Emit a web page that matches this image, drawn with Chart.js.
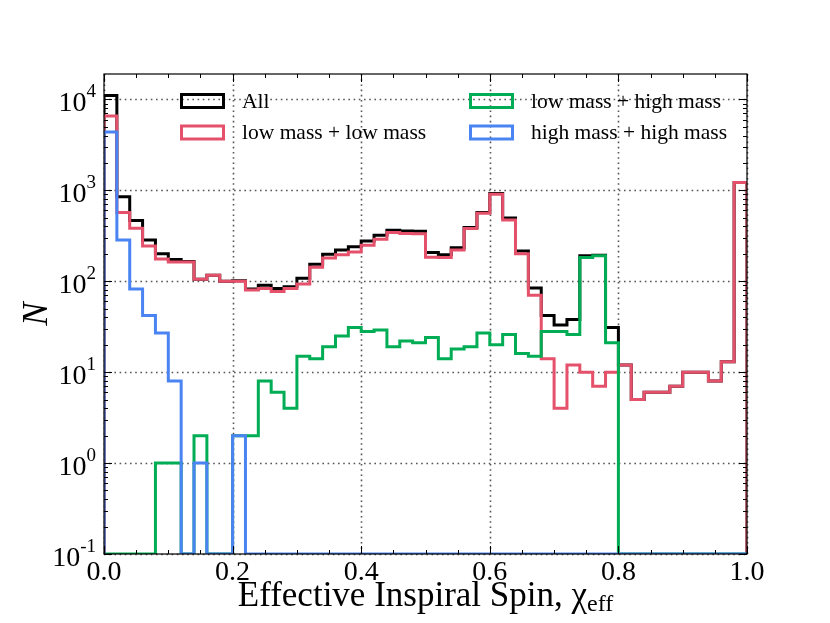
<!DOCTYPE html>
<html>
<head>
<meta charset="utf-8">
<script src="https://cdn.jsdelivr.net/npm/chart.js@4"></script>
<style>
  html, body { margin: 0; padding: 0; background: #fff; }
  canvas { display: block; }
</style>
</head>
<body>
<canvas id="myChart" width="830" height="623"></canvas>
<script>
// histogram bins: 50 bins of width 0.02 from 0 to 1
var binEdges = [];
for (var i = 0; i <= 50; i++) binEdges.push(+(i * 0.02).toFixed(2));

// counts per bin (0 = empty bin)
var allCounts = [11000, 850, 464, 284, 200, 173, 165, 105, 116, 100,
                 101, 82, 90, 83, 87, 108, 154, 198, 221, 240,
                 277, 320, 363, 357, 354, 207, 195, 234, 389, 569,
                 920, 496, 215, 84, 42, 33, 38, 190, 193, 31,
                 12, 5, 6, 6, 7, 10, 10, 8, 13, 1217];
var lowLow =    [6550, 569, 382, 244, 175, 163, 163, 105, 116, 100,
                 100, 80, 83, 77, 83, 93, 142, 180, 196, 209,
                 248, 290, 344, 335, 333, 183, 182, 221, 380, 558,
                 903, 472, 200, 70, 14, 4, 12, 10, 7, 10,
                 12, 5, 6, 6, 7, 10, 10, 8, 13, 1217];
var lowHigh =   [0, 0, 0, 0, 1, 1, 0, 2, 0, 0,
                 2, 2, 8, 6, 4, 15, 14, 19, 25, 31,
                 28, 29, 19, 22, 21, 24, 14, 18, 19, 27,
                 20, 26, 16, 15, 28, 28, 26, 182, 190, 21,
                 0, 0, 0, 0, 0, 0, 0, 0, 0, 0];
var highHigh =  [4370, 284, 82, 42, 27, 8, 0, 1, 0, 0,
                 2, 0, 0, 0, 0, 0, 0, 0, 0, 0,
                 0, 0, 0, 0, 0, 0, 0, 0, 0, 0,
                 0, 0, 0, 0, 0, 0, 0, 0, 0, 0,
                 0, 0, 0, 0, 0, 0, 0, 0, 0, 0];

var seriesNames = ['All', 'low mass + low mass', 'low mass + high mass', 'high mass + high mass'];
var xTicks = [0, 0.2, 0.4, 0.6, 0.8, 1.0];
var yDecades = [-1, 0, 1, 2, 3, 4];

var Y_MIN = 0.1, Y_MAX = 19000;
var SERIF = '"Liberation Serif", "DejaVu Serif", serif';

// step outline like matplotlib histtype='step'; empty bins sit on the bottom edge
function stepPoints(counts) {
  var pts = [{x: binEdges[0], y: Y_MIN}];
  counts.forEach(function (c, i) {
    pts.push({x: binEdges[i], y: c > 0 ? c : Y_MIN});
  });
  var last = counts[counts.length - 1];
  pts.push({x: binEdges[binEdges.length - 1], y: last > 0 ? last : Y_MIN});
  pts.push({x: binEdges[binEdges.length - 1], y: Y_MIN});
  return pts;
}

var colors = ['#000000', '#e5506a', '#00ad55', '#4a84f2'];

function histSet(idx, counts, order) {
  return {
    label: seriesNames[idx],
    data: stepPoints(counts),
    stepped: 'before',
    borderColor: colors[idx],
    borderWidth: 3,
    pointRadius: 0,
    fill: false,
    borderJoinStyle: 'miter',
    order: order
  };
}

var framePlugin = {
  id: 'frame',
  beforeDatasetsDraw: function (chart) {
    var ctx = chart.ctx, a = chart.chartArea;
    var xs = chart.scales.x, ys = chart.scales.y;
    ctx.save();
    ctx.strokeStyle = '#555';
    ctx.lineWidth = 1.6;
    ctx.setLineDash([1.6, 3.6]);
    xTicks.forEach(function (t) {
      var px = Math.round(xs.getPixelForValue(t)) + 0.5;
      ctx.beginPath(); ctx.moveTo(px, a.top); ctx.lineTo(px, a.bottom); ctx.stroke();
    });
    yDecades.forEach(function (d) {
      var py = Math.round(ys.getPixelForValue(Math.pow(10, d))) + 0.5;
      ctx.beginPath(); ctx.moveTo(a.left, py); ctx.lineTo(a.right, py); ctx.stroke();
    });
    ctx.restore();
  },
  afterDraw: function (chart) {
    var ctx = chart.ctx, a = chart.chartArea;
    var xs = chart.scales.x, ys = chart.scales.y;
    ctx.save();
    ctx.strokeStyle = '#000';
    ctx.lineWidth = 1.2;
    ctx.strokeRect(a.left, a.top, a.right - a.left, a.bottom - a.top);

    // inward ticks on all four sides
    ctx.lineWidth = 1;
    function xtick(v, len) {
      var px = Math.round(xs.getPixelForValue(v)) + 0.5;
      ctx.beginPath();
      ctx.moveTo(px, a.bottom); ctx.lineTo(px, a.bottom - len);
      ctx.moveTo(px, a.top); ctx.lineTo(px, a.top + len);
      ctx.stroke();
    }
    function ytick(v, len) {
      var py = Math.round(ys.getPixelForValue(v)) + 0.5;
      ctx.beginPath();
      ctx.moveTo(a.left, py); ctx.lineTo(a.left + len, py);
      ctx.moveTo(a.right, py); ctx.lineTo(a.right - len, py);
      ctx.stroke();
    }
    for (var k = 0; k <= 20; k++) xtick(k * 0.05, k % 4 === 0 ? 8 : 4);
    yDecades.forEach(function (d) {
      ytick(Math.pow(10, d), 8);
      for (var m = 2; m <= 9; m++) {
        var v = m * Math.pow(10, d);
        if (v <= Y_MAX) ytick(v, 4);
      }
    });

    // x tick labels
    ctx.fillStyle = '#000';
    ctx.font = '28px ' + SERIF;
    ctx.textAlign = 'center';
    ctx.textBaseline = 'alphabetic';
    xTicks.forEach(function (t) {
      ctx.fillText(t.toFixed(1), xs.getPixelForValue(t), a.bottom + 26);
    });

    // y tick labels 10^n
    var right = a.left - 8;
    yDecades.forEach(function (d) {
      var py = ys.getPixelForValue(Math.pow(10, d));
      var exp = d < 0 ? '-' + (-d) : String(d);
      ctx.font = '19px ' + SERIF;
      ctx.textAlign = 'right';
      ctx.fillText(exp, right, py - 2);
      var w = ctx.measureText(exp).width;
      ctx.font = '28px ' + SERIF;
      ctx.fillText('10', right - w, py + 12);
    });

    // x axis title with subscript
    var cx = (a.left + a.right) / 2;
    var mainTxt = 'Effective Inspiral Spin, ';
    ctx.textAlign = 'left';
    ctx.font = '35px ' + SERIF;
    var w1 = ctx.measureText(mainTxt).width;
    var w2 = ctx.measureText('\u03c7').width;
    ctx.font = '24px ' + SERIF;
    var w3 = ctx.measureText('eff').width;
    var x0 = cx - (w1 + w2 + w3) / 2;
    ctx.font = '35px ' + SERIF;
    ctx.fillText(mainTxt, x0, 606);
    ctx.fillText('\u03c7', x0 + w1, 606);
    ctx.font = '24px ' + SERIF;
    ctx.fillText('eff', x0 + w1 + w2, 611);

    // y axis title
    ctx.save();
    ctx.translate(38, (a.top + a.bottom) / 2);
    ctx.rotate(-Math.PI / 2);
    ctx.font = 'italic 35px ' + SERIF;
    ctx.textAlign = 'center';
    ctx.textBaseline = 'middle';
    ctx.fillText('N', 0, 0);
    ctx.restore();

    // legend, two columns inside the axes
    var cols = [[0, 1], [2, 3]];
    var colX = [180, 469];
    var rowY = [101, 132.5];
    ctx.font = '21.5px ' + SERIF;
    ctx.textBaseline = 'middle';
    ctx.textAlign = 'left';
    cols.forEach(function (col, ci) {
      col.forEach(function (idx, ri) {
        ctx.strokeStyle = colors[idx];
        ctx.lineWidth = 3;
        ctx.strokeRect(colX[ci] + 1.5, rowY[ri] - 6.5, 42, 13);
        ctx.fillStyle = '#000';
        ctx.fillText(seriesNames[idx], colX[ci] + 62, rowY[ri] + 1);
      });
    });
    ctx.restore();
  }
};

var ctx = document.getElementById('myChart').getContext('2d');
var chart = new Chart(ctx, {
  type: 'line',
  data: {
    datasets: [
      histSet(0, allCounts, 4),
      histSet(1, lowLow, 3),
      histSet(2, lowHigh, 2),
      histSet(3, highHigh, 1)
    ]
  },
  options: {
    responsive: false,
    animation: false,
    devicePixelRatio: 1,
    layout: { padding: { left: 104, right: 83, top: 74, bottom: 69 } },
    plugins: { legend: { display: false }, tooltip: { enabled: false } },
    scales: {
      x: { type: 'linear', min: 0, max: 1, display: false },
      y: { type: 'logarithmic', min: Y_MIN, max: Y_MAX, display: false }
    }
  },
  plugins: [framePlugin]
});
</script>
</body>
</html>
